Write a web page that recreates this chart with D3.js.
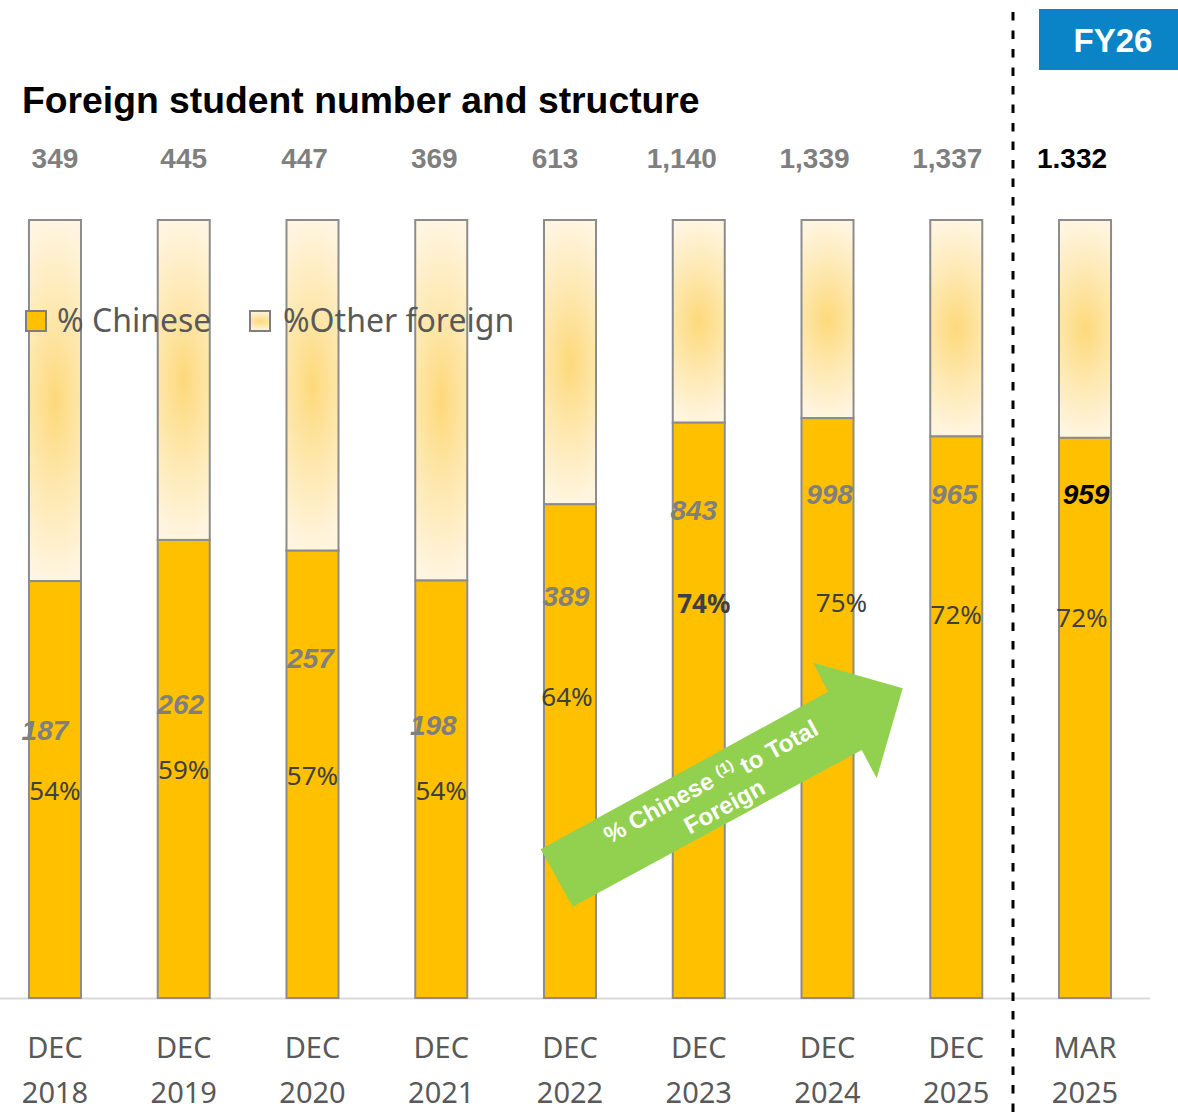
<!DOCTYPE html>
<html>
<head>
<meta charset="utf-8">
<script src="https://cdn.jsdelivr.net/npm/d3@7/dist/d3.min.js"></script>
<style>
  body { margin: 0; background: #fff; }
  svg text { font-family: "Liberation Sans", Arial, sans-serif; }
  .soft { font-family: "Noto Sans", "Open Sans", sans-serif !important; }
</style>
</head>
<body>
<div id="root"></div>
<script>
// data
var months = ["DEC", "DEC", "DEC", "DEC", "DEC", "DEC", "DEC", "DEC", "MAR"];
var years = ["2018", "2019", "2020", "2021", "2022", "2023", "2024", "2025", "2025"];
var totals = [349, 445, 447, 369, 613, 1140, 1339, 1337, 1332];
var chinese = [187, 262, 257, 198, 389, 843, 998, 965, 959];
var totalLabels = ["349", "445", "447", "369", "613", "1,140", "1,339", "1,337", "1.332"];
var pctLabels = ["54%", "59%", "57%", "54%", "64%", "74%", "75%", "72%", "72%"];

// where labels sit (in share units on the 0-1 axis) and small nudges
var pctAt = [0.266, 0.293, 0.286, 0.266, 0.387, 0.506, 0.508, 0.492, 0.488];
var countAt = [0.344, 0.377, 0.437, 0.351, 0.517, 0.627, 0.648, 0.648, 0.648];
var totalNudge = [0, 0, -8, -7, -15, -17, -13, -9, -13];
var countNudge = [-10, -3, -2, -8, -4, -5, 2, -2, 1];
var pctNudge = [0, 0, 0, 0, -3, 5, 14, 0, -3];

var width = 1178;
var height = 1117;

var svg = d3.select('#root')
  .append('svg')
    .attr('width', width)
    .attr('height', height);

var defs = svg.append('defs');
var grad = defs.append('radialGradient')
  .attr('id', 'otherFill')
  .attr('cx', '50%').attr('cy', '50%').attr('r', '50%')
  .attr('gradientTransform', 'translate(0.5,0.5) scale(2.2,1) translate(-0.5,-0.5)');
grad.append('stop').attr('offset', '0%').attr('stop-color', '#fdd97a');
grad.append('stop').attr('offset', '50%').attr('stop-color', '#fee8b0');
grad.append('stop').attr('offset', '100%').attr('stop-color', '#fff5e0');

var x = d3.scaleBand()
  .domain(d3.range(totals.length))
  .range([-9.4, 1149.4])
  .paddingInner(0.596)
  .paddingOuter(0.298);

var y = d3.scaleLinear()
  .domain([0, 1])
  .range([998, 220]);

var rows = totals.map(function(t, i) {
  return { i: i, total: t, chinese: chinese[i], share: chinese[i] / t };
});

function cx(d) { return x(d.i) + x.bandwidth() / 2; }

// title
svg.append('text')
  .attr('x', 22)
  .attr('y', 113)
  .style('font-size', '37.3px')
  .style('font-weight', 'bold')
  .attr('fill', '#000')
  .text('Foreign student number and structure');

// FY26 box
svg.append('rect')
  .attr('x', 1039).attr('y', 9)
  .attr('width', 139).attr('height', 61)
  .attr('fill', '#0a84c6');
svg.append('text')
  .attr('x', 1113).attr('y', 52)
  .attr('text-anchor', 'middle')
  .style('font-size', '33px')
  .style('font-weight', 'bold')
  .attr('fill', '#fff')
  .text('FY26');

// x axis
var xAxis = svg.append('g')
  .attr('transform', 'translate(0,998)')
  .call(d3.axisBottom(x).tickSize(0).tickFormat(''));
xAxis.select('.domain')
  .attr('stroke', '#d9d9d9')
  .attr('stroke-width', 2);

var ticks = xAxis.selectAll('.tick text')
  .attr('class', 'soft')
  .attr('y', 0)
  .attr('dy', null)
  .attr('fill', '#595959')
  .style('font-size', '29px');
ticks.each(function(d) {
  var t = d3.select(this);
  t.append('tspan').attr('x', 0).attr('y', 60).text(months[d]);
  t.append('tspan').attr('x', 0).attr('y', 105).text(years[d]);
});

// bars
var bar = svg.selectAll('g.bar')
  .data(rows)
  .enter()
  .append('g')
    .attr('class', 'bar');

bar.append('rect')
  .attr('x', function(d) { return x(d.i); })
  .attr('y', y(1))
  .attr('width', x.bandwidth())
  .attr('height', function(d) { return y(d.share) - y(1); })
  .attr('fill', 'url(#otherFill)')
  .attr('stroke', '#8c8c8c')
  .attr('stroke-width', 2);

bar.append('rect')
  .attr('x', function(d) { return x(d.i); })
  .attr('y', function(d) { return y(d.share); })
  .attr('width', x.bandwidth())
  .attr('height', function(d) { return y(0) - y(d.share); })
  .attr('fill', '#ffc000')
  .attr('stroke', '#8c8c8c')
  .attr('stroke-width', 2);

// legend (drawn over the bars like in the original)
var legend = svg.append('g');
legend.append('rect')
  .attr('x', 26).attr('y', 311).attr('width', 20).attr('height', 20)
  .attr('fill', '#ffc000').attr('stroke', '#7f7f7f').attr('stroke-width', 2);
legend.append('text')
  .attr('class', 'soft')
  .attr('x', 57).attr('y', 332)
  .style('font-size', '32px')
  .attr('fill', '#595959')
  .text('% Chinese');
legend.append('rect')
  .attr('x', 250).attr('y', 311).attr('width', 20).attr('height', 20)
  .attr('fill', 'url(#otherFill)').attr('stroke', '#7f7f7f').attr('stroke-width', 2);
legend.append('text')
  .attr('class', 'soft')
  .attr('x', 283).attr('y', 332)
  .style('font-size', '32px')
  .attr('fill', '#595959')
  .text('%Other foreign');

// totals on top
svg.selectAll('text.total')
  .data(rows)
  .enter()
  .append('text')
    .attr('class', 'total')
    .attr('x', function(d) { return cx(d) + totalNudge[d.i]; })
    .attr('y', 168)
    .attr('text-anchor', 'middle')
    .style('font-size', '28px')
    .style('font-weight', 'bold')
    .attr('fill', function(d) { return d.i === 8 ? '#000' : '#7f7f7f'; })
    .text(function(d) { return totalLabels[d.i]; });

// chinese counts
svg.selectAll('text.count')
  .data(rows)
  .enter()
  .append('text')
    .attr('class', 'count')
    .attr('x', function(d) { return cx(d) + countNudge[d.i]; })
    .attr('y', function(d) { return y(countAt[d.i]); })
    .attr('dy', '0.35em')
    .attr('text-anchor', 'middle')
    .style('font-size', '28px')
    .style('font-weight', 'bold')
    .style('font-style', 'italic')
    .attr('fill', function(d) { return d.i === 8 ? '#000' : '#7f7f7f'; })
    .text(function(d) { return d.chinese; });

// percentage of chinese
svg.selectAll('text.pct')
  .data(rows)
  .enter()
  .append('text')
    .attr('class', 'pct soft')
    .attr('x', function(d) { return cx(d) + pctNudge[d.i]; })
    .attr('y', function(d) { return y(pctAt[d.i]); })
    .attr('dy', '0.35em')
    .attr('text-anchor', 'middle')
    .style('font-size', '26px')
    .style('font-weight', function(d) { return d.i === 5 ? 'bold' : 'normal'; })
    .attr('fill', '#404040')
    .text(function(d) { return pctLabels[d.i]; });

// dashed separator before the FY26 column
svg.append('line')
  .attr('x1', 1013).attr('x2', 1013)
  .attr('y1', 12).attr('y2', height)
  .attr('stroke', '#000')
  .attr('stroke-width', 3)
  .attr('stroke-dasharray', '8.5,10');

// green trend arrow
var arrowPts = [[540.7, 849.3], [828, 691.7], [813.3, 662.7], [902.7, 688.3],
                [876.7, 778.3], [861.7, 750], [572.7, 906.7]];
svg.append('path')
  .attr('d', d3.line()(arrowPts) + 'Z')
  .attr('fill', '#92d050');

var arrowText = svg.append('g')
  .attr('transform', 'translate(717,793) rotate(-28.7)');
var line1 = arrowText.append('text')
  .attr('x', 0).attr('y', -15)
  .attr('dy', '0.35em')
  .attr('text-anchor', 'middle')
  .style('font-size', '24px')
  .style('font-weight', 'bold')
  .attr('fill', '#fff');
line1.append('tspan').text('% Chinese ');
line1.append('tspan').attr('dy', '-0.45em').style('font-size', '15px').text('(1)');
line1.append('tspan').attr('dy', '0.45em').text(' to Total');
arrowText.append('text')
  .attr('x', 0).attr('y', 15)
  .attr('dy', '0.35em')
  .attr('text-anchor', 'middle')
  .style('font-size', '24px')
  .style('font-weight', 'bold')
  .attr('fill', '#fff')
  .text('Foreign');
</script>
</body>
</html>
